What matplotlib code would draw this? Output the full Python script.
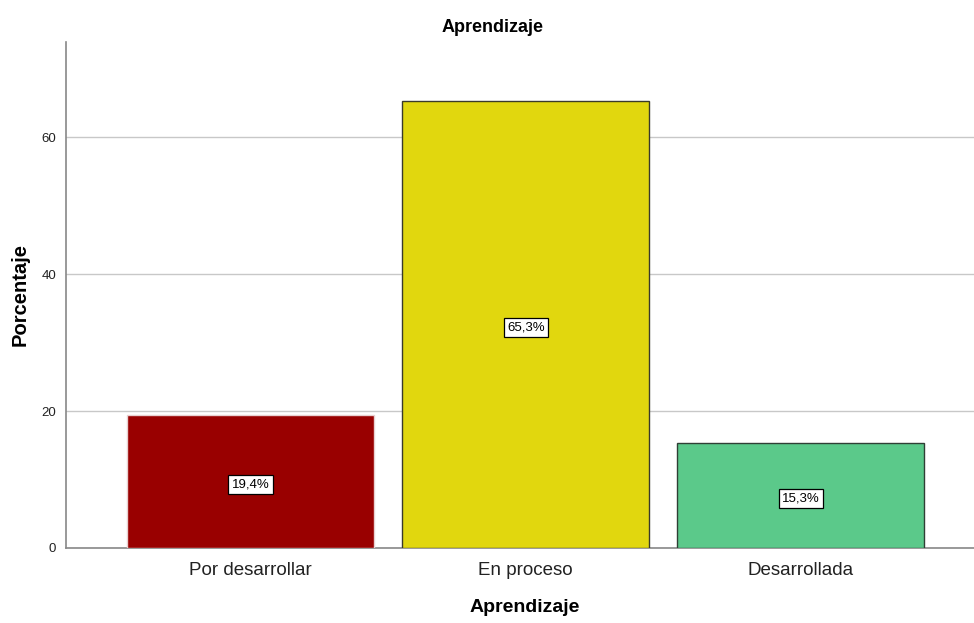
import matplotlib
matplotlib.use("Agg")
import matplotlib.pyplot as plt
import matplotlib.transforms as mtransforms

categories = ["Por desarrollar", "En proceso", "Desarrollada"]
values = [19.4, 65.3, 15.3]
value_labels = ["19,4%", "65,3%", "15,3%"]
colors = ["#990000", "#E1D70E", "#5BC98A"]
edgecolors = ["#E8D0D0", "#3A3A2A", "#2F3F35"]
yticks = [0, 20, 40, 60]

plt.rcParams['font.family'] = ['Liberation Sans', 'DejaVu Sans']

fig = plt.figure(figsize=(9.74, 6.23), dpi=100)
ax = fig.add_axes([66/974, 75/623, 908/974, 506/623])

x = list(range(len(categories)))
ax.bar(x, values, width=0.898, color=colors, edgecolor=edgecolors, linewidth=1.0, zorder=3)

offset = mtransforms.ScaledTranslation(0, -3/100, fig.dpi_scale_trans)
for xi, v, lab in zip(x, values, value_labels):
    ax.text(xi, v/2, lab, ha='center', va='center', fontsize=9.5, zorder=4,
            transform=ax.transData + offset,
            bbox=dict(boxstyle='square,pad=0.25', facecolor='white', edgecolor='black', linewidth=0.9))

ax.set_xlim(-0.671, 2.629)
ax.set_ylim(0, 73.9)
ax.set_yticks(yticks)
ax.set_yticklabels([str(t) for t in yticks], fontsize=9.5)
ax.set_xticks(x)
ax.set_xticklabels(categories, fontsize=13.5)
ax.tick_params(axis='both', length=0, colors='#222222')
ax.tick_params(axis='x', pad=10)
ax.tick_params(axis='y', pad=7)
ax.yaxis.grid(True, color='#C8C8C8', linewidth=1.0, zorder=0)
ax.set_axisbelow(True)
for s in ['top', 'right']:
    ax.spines[s].set_visible(False)
for s in ['left', 'bottom']:
    ax.spines[s].set_color('#888888')
    ax.spines[s].set_linewidth(1.2)

fig.text(493/974, 1 - 28/623, "Aprendizaje", ha='center', va='center', fontsize=13, fontweight='bold')
fig.text(525/974, 1 - 608/623, "Aprendizaje", ha='center', va='center', fontsize=14, fontweight='bold')
fig.text(20/974, 1 - 295/623, "Porcentaje", ha='center', va='center', rotation=90, fontsize=14.5, fontweight='bold')

fig.savefig("out.png", dpi=100, facecolor='white')
